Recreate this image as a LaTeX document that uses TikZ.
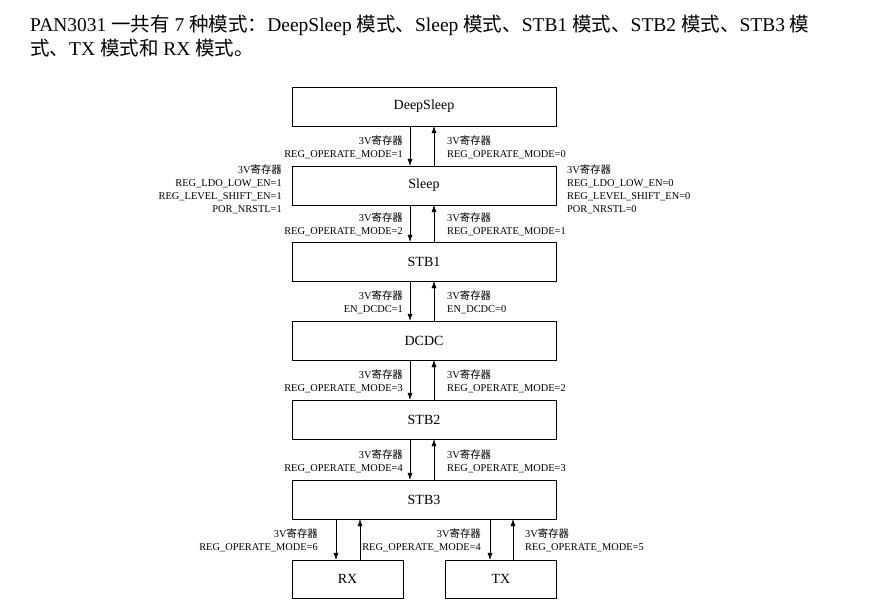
\documentclass[tikz,border=0pt]{standalone}
\usepackage{fontspec}
\setmainfont{Liberation Serif}
\newfontfamily\cjk{Noto Sans CJK SC}
\usetikzlibrary{positioning,arrows.meta}
\newcommand{\regv}{3V{\cjk 寄存器}}
\begin{document}
\begin{tikzpicture}[x=1pt,y=-1pt,
  box/.style={draw, minimum width=264pt, minimum height=39pt, font=\fontsize{14}{16}\selectfont},
  small/.style={draw, minimum width=111pt, minimum height=38pt, font=\fontsize{14}{16}\selectfont},
  lbl/.style={inner sep=0pt, align=right, anchor=east, font=\fontsize{10.4}{13}\selectfont},
  rbl/.style={inner sep=0pt, align=left, anchor=west, font=\fontsize{10.4}{13}\selectfont},
  arr/.style={-{Latex[length=7pt,width=5pt]}}]
  \useasboundingbox (0,0) rectangle (888,612);
  % title
  \node [anchor=west, inner sep=0pt, font=\fontsize{19.5}{22}\selectfont] (t1) at (30,25)
    {PAN3031 {\cjk 一共有} 7 {\cjk 种模式：}DeepSleep {\cjk 模式、}Sleep {\cjk 模式、}STB1 {\cjk 模式、}STB2 {\cjk 模式、}STB3 {\cjk 模}};
  \node [anchor=west, inner sep=0pt, font=\fontsize{19.5}{22}\selectfont] (t2) at (30,48)
    {{\cjk 式、}TX {\cjk 模式和} RX {\cjk 模式。}};

  % states
  \node [box] (ds) at (424,106.5) {DeepSleep};
  \node [box] (sl) at (424,185.5) {Sleep};
  \node [box] (s1) at (424,261.5) {STB1};
  \node [box] (dc) at (424,340.5) {DCDC};
  \node [box] (s2) at (424,419.5) {STB2};
  \node [box] (s3) at (424,499.5) {STB3};
  \node [small] (rx) at (347.5,579) {RX};
  \node [small] (tx) at (501,579) {TX};

  % vertical transitions
  \foreach \a/\b/\m/\n/\y in {ds/sl/REG\_OPERATE\_MODE=1/REG\_OPERATE\_MODE=0/147.5,
                              sl/s1/REG\_OPERATE\_MODE=2/REG\_OPERATE\_MODE=1/224.5,
                              s1/dc/EN\_DCDC=1/EN\_DCDC=0/302,
                              dc/s2/REG\_OPERATE\_MODE=3/REG\_OPERATE\_MODE=2/381.5,
                              s2/s3/REG\_OPERATE\_MODE=4/REG\_OPERATE\_MODE=3/461} {
    \draw [arr] ([xshift=-14pt]\a.south) -- ([xshift=-14pt]\b.north);
    \draw [arr] ([xshift=10pt]\b.north) -- ([xshift=10pt]\a.south);
    \node [lbl] (l-\a) at (403,\y) {\regv\\\m};
    \node [rbl] (r-\a) at (447,\y) {\regv\\\n};
  }

  % sleep side conditions
  \node [lbl] (sl-l) at (282,189) {\regv\\REG\_LDO\_LOW\_EN=1\\REG\_LEVEL\_SHIFT\_EN=1\\POR\_NRSTL=1};
  \node [rbl] (sl-r) at (567,189) {\regv\\REG\_LDO\_LOW\_EN=0\\REG\_LEVEL\_SHIFT\_EN=0\\POR\_NRSTL=0};

  % rx / tx
  \draw [arr] (s3.south -| 336,0) -- (rx.north -| 336,0);
  \draw [arr] (rx.north -| 360,0) -- (s3.south -| 360,0);
  \draw [arr] (s3.south -| 490,0) -- (tx.north -| 490,0);
  \draw [arr] (tx.north -| 513,0) -- (s3.south -| 513,0);
  \node [lbl] (l-rx) at (318,540) {\regv\\REG\_OPERATE\_MODE=6};
  \node [lbl] (r-rx) at (481,540) {\regv\\REG\_OPERATE\_MODE=4};
  \node [rbl] (l-tx) at (525,540) {\regv\\REG\_OPERATE\_MODE=5};
\end{tikzpicture}
\end{document}
